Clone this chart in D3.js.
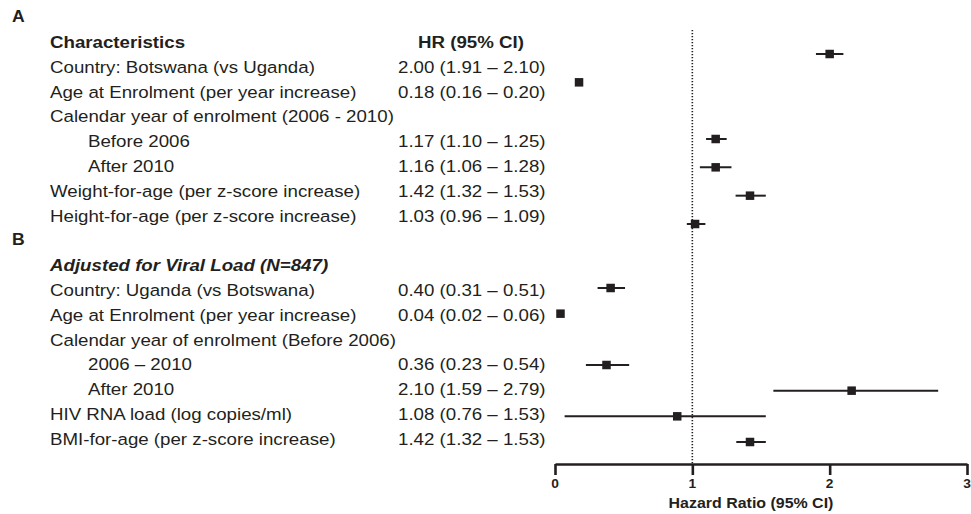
<!DOCTYPE html>
<html>
<head>
<meta charset="utf-8">
<script src="https://cdn.jsdelivr.net/npm/d3@7"></script>
<style>
  html, body { margin: 0; padding: 0; background: #fff; }
  svg { display: block; }
  text { font-family: "Liberation Sans", Arial, Helvetica, sans-serif; fill: #231f20; }
</style>
</head>
<body>
<svg id="chart" width="971" height="514"></svg>
<script>
// ---------- DATA ----------
const panelLetters = ["A", "B"];
const headerA = "Characteristics";
const headerB = "Adjusted for Viral Load (N=847)";
const hrHeader = "HR (95% CI)";

const labelsA = [
  "Country: Botswana (vs Uganda)",
  "Age at Enrolment (per year increase)",
  "Calendar year of enrolment (2006 - 2010)",
  "Before 2006",
  "After 2010",
  "Weight-for-age (per z-score increase)",
  "Height-for-age (per z-score increase)"
];
const indentA = [false, false, false, true, true, false, false];
const hrTextA = [
  "2.00 (1.91 \u2013 2.10)",
  "0.18 (0.16 \u2013 0.20)",
  "",
  "1.17 (1.10 \u2013 1.25)",
  "1.16 (1.06 \u2013 1.28)",
  "1.42 (1.32 \u2013 1.53)",
  "1.03 (0.96 \u2013 1.09)"
];
// plotted estimates (as drawn in the figure)
const estA = [2.00, 0.175, null, 1.17, 1.17, 1.42, 1.02];
const lowA = [1.90, 0.165, null, 1.10, 1.055, 1.315, 0.96];
const highA = [2.10, 0.185, null, 1.25, 1.285, 1.535, 1.095];

const labelsB = [
  "Country: Uganda (vs Botswana)",
  "Age at Enrolment (per year increase)",
  "Calendar year of enrolment (Before 2006)",
  "2006 \u2013 2010",
  "After 2010",
  "HIV RNA load (log copies/ml)",
  "BMI-for-age (per z-score increase)"
];
const indentB = [false, false, false, true, true, false, false];
const hrTextB = [
  "0.40 (0.31 \u2013 0.51)",
  "0.04 (0.02 \u2013 0.06)",
  "",
  "0.36 (0.23 \u2013 0.54)",
  "2.10 (1.59 \u2013 2.79)",
  "1.08 (0.76 \u2013 1.53)",
  "1.42 (1.32 \u2013 1.53)"
];
const estB = [0.405, 0.04, null, 0.375, 2.16, 0.89, 1.42];
const lowB = [0.31, 0.03, null, 0.225, 1.59, 0.07, 1.32];
const highB = [0.51, 0.05, null, 0.54, 2.79, 1.535, 1.535];

const xTicks = [0, 1, 2, 3];
const xTitle = "Hazard Ratio (95% CI)";
const refValue = 1;

// ---------- LAYOUT ----------
const svg = d3.select("#chart");
const ink = "#231f20";
const SX = 1.1; // horizontal stretch of the original typesetting

const x = d3.scaleLinear().domain([0, 3]).range([555, 967]);
const rowY = d => 48 + d * 24.8;       // text baselines per row index
const markYA = d3.scaleLinear().domain([1, 7]).range([54, 224]);
const markYB = d3.scaleLinear().domain([10, 16]).range([288, 442]);
const axisY = 464;

function txt(xp, yp, s, opts = {}) {
  const t = svg.append("text")
    .attr("transform", `translate(${xp},${yp}) scale(${SX},1)`)
    .attr("font-size", opts.size || 17)
    .attr("text-anchor", opts.anchor || "start")
    .text(s);
  if (opts.bold) t.attr("font-weight", "bold");
  if (opts.italic) t.attr("font-style", "italic");
  return t;
}

// Panel letters
txt(12, 22, panelLetters[0], { bold: true, size: 16 });
txt(12, rowY(8) - 1, panelLetters[1], { bold: true, size: 16 });

// Headers
txt(50, rowY(0), headerA, { bold: true });
txt(418, rowY(0), hrHeader, { bold: true });
txt(50, rowY(9), headerB, { bold: true, italic: true });

// Row text
function rows(labels, indent, hrText, startRow) {
  labels.forEach((l, i) => {
    const r = startRow + i;
    txt(indent[i] ? 88 : 50, rowY(r), l);
    if (hrText[i]) txt(398, rowY(r), hrText[i]);
  });
}
rows(labelsA, indentA, hrTextA, 1);
rows(labelsB, indentB, hrTextB, 10);

// Reference dotted line
svg.append("line")
  .attr("x1", x(refValue)).attr("x2", x(refValue))
  .attr("y1", 30).attr("y2", axisY)
  .attr("stroke", ink).attr("stroke-width", 1.6)
  .attr("stroke-dasharray", "1.3,1.7");

// Forest marks
function marks(est, low, high, yScale, startRow) {
  est.forEach((e, i) => {
    if (e === null) return;
    const yy = yScale(startRow + i);
    svg.append("line")
      .attr("x1", x(low[i])).attr("x2", x(high[i]))
      .attr("y1", yy).attr("y2", yy)
      .attr("stroke", ink).attr("stroke-width", 2);
    const s = 8.5;
    svg.append("rect")
      .attr("x", x(e) - s / 2).attr("y", yy - s / 2)
      .attr("width", s).attr("height", s)
      .attr("fill", ink);
  });
}
marks(estA, lowA, highA, markYA, 1);
marks(estB, lowB, highB, markYB, 10);

// X axis
const axis = svg.append("g")
  .attr("transform", `translate(0,${axisY})`)
  .call(d3.axisBottom(x).tickValues(xTicks).tickSize(11).tickSizeOuter(0).tickFormat(d3.format("d")));
axis.select(".domain").attr("stroke", ink).attr("stroke-width", 2.6);
axis.selectAll(".tick line").attr("stroke", ink).attr("stroke-width", 2.6);
axis.selectAll(".tick text").remove();
xTicks.forEach(t => txt(x(t), 488, String(t), { bold: true, size: 12.5, anchor: "middle" }));

txt(751, 508, xTitle, { bold: true, size: 14.5, anchor: "middle" });
</script>
</body>
</html>
